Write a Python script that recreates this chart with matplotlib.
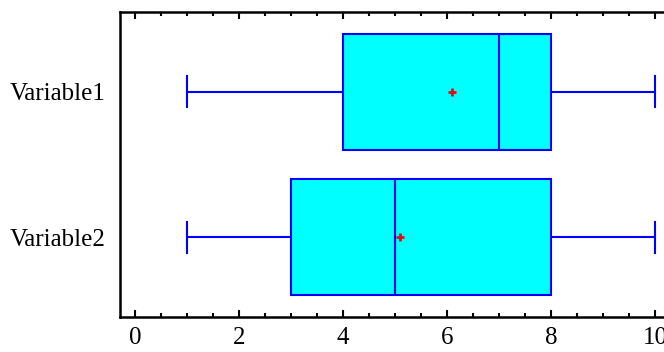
import matplotlib
matplotlib.use('Agg')
import matplotlib.pyplot as plt
from matplotlib.ticker import MultipleLocator

labels = ['Variable1', 'Variable2']
mins = [1, 1]
q1s = [4, 3]
medians = [7, 5]
q3s = [8, 8]
maxs = [10, 10]
means = [6.1, 5.1]

plt.rcParams['font.family'] = ['Liberation Serif', 'DejaVu Serif']

stats = []
for i in range(len(labels)):
    stats.append({'label': labels[i], 'whislo': mins[i], 'q1': q1s[i],
                  'med': medians[i], 'q3': q3s[i], 'whishi': maxs[i],
                  'mean': means[i], 'fliers': []})

fig = plt.figure(figsize=(6.64, 3.52), dpi=100)
ax = fig.add_axes([0.18, 0.0994, 0.838, 0.8665])

blue = '#0000FF'
ax.bxp(stats, positions=[1, 2], orientation='horizontal', widths=0.8,
       patch_artist=True, showmeans=True, showfliers=False,
       boxprops=dict(facecolor='#00FFFF', edgecolor=blue, linewidth=1.5),
       medianprops=dict(color=blue, linewidth=1.5),
       whiskerprops=dict(color=blue, linewidth=1.5),
       capprops=dict(color=blue, linewidth=1.5),
       capwidths=0.21,
       meanprops=dict(marker='+', markeredgecolor='red', markersize=6,
                      markeredgewidth=2))

ax.set_xlim(-0.3, 10.4)
ax.set_ylim(2.548, 0.452)
ax.xaxis.set_major_locator(MultipleLocator(2))
ax.xaxis.set_minor_locator(MultipleLocator(0.5))
ax.tick_params(axis='x', which='both', direction='in', top=True, bottom=True,
               labelsize=18, width=1.5)
ax.tick_params(axis='x', which='major', length=5, pad=7)
ax.tick_params(axis='x', which='minor', length=3)
ax.tick_params(axis='y', which='both', length=0, labelsize=18, pad=10)
for s in ax.spines.values():
    s.set_linewidth(1.8)

fig.savefig('out.png', dpi=100)
